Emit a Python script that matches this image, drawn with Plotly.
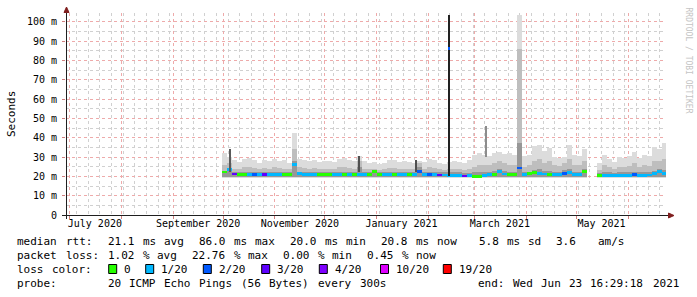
import plotly.graph_objects as go
import pandas as pd

# ---------------- data ----------------
bin_start = pd.date_range("2020-09-30", periods=89, freq="3D")

smoke_top = [32.0, 30.0, 28.5, 27.5, 29.0, 29.5, 28.5, 27.0, 28.5, 28.0,
             29.0, 28.0, 28.5, 27.0, 42.5, 29.0, 28.5, 28.0, 28.5, 27.5,
             28.0, 28.0, 27.5, 29.0, 29.5, 28.5, 28.0, 30.5, 28.0, 27.0,
             27.5, 26.5, 27.0, 28.5, 28.5, 27.5, 28.0, 27.5, 27.0, 28.0,
             27.5, 29.0, 28.5, 27.0, 26.5, 27.5, 28.0, 27.5, 27.0, 28.5,
             31.0, 32.0, 31.0, 30.5, 32.0, 32.5, 31.5, 32.0, 31.0, 103.5,
             30.5, 31.0, 35.5, 36.0, 33.0, 34.5, 30.0, 29.5, 30.0, 36.0,
             31.0, 30.5, 34.0, None, None, 27.0, 31.0, 29.0, 27.5, 30.0,
             29.5, 30.5, 32.5, 29.5, 31.0, 30.5, 35.0, 34.0, 37.0]

smoke_mid = [26.0, 27.0, 24.0, 24.0, 25.0, 25.0, 24.5, 24.0, 24.5, 24.0,
             25.0, 24.5, 24.0, 24.0, 34.0, 25.0, 24.5, 24.0, 24.5, 24.0,
             24.0, 24.0, 24.0, 25.0, 25.0, 24.5, 24.0, 28.0, 24.0, 24.0,
             24.0, 23.5, 24.0, 24.5, 24.5, 24.0, 24.0, 24.0, 24.0, 27.0,
             24.0, 25.0, 24.5, 24.0, 23.5, 24.0, 24.0, 24.0, 23.5, 24.0,
             25.0, 26.0, 26.0, 26.0, 27.0, 28.0, 27.0, 26.0, 26.0, 86.0,
             25.0, 26.0, 28.0, 29.0, 27.0, 28.0, 26.0, 25.5, 27.0, 29.0,
             26.0, 26.0, 28.0, None, None, 23.5, 26.0, 25.0, 24.0, 25.0,
             25.0, 25.5, 27.0, 25.0, 26.0, 25.5, 28.0, 28.0, 29.0]

smoke_inner = [23.0, 24.5, 22.0, 22.0, 22.0, 22.0, 22.0, 22.0, 22.0, 22.0,
               22.0, 22.0, 22.0, 22.0, 28.0, 22.0, 22.0, 22.0, 22.0, 22.0,
               22.0, 22.0, 22.0, 22.0, 22.0, 22.0, 22.0, 25.0, 22.0, 22.0,
               23.5, 22.0, 22.0, 22.0, 22.0, 22.0, 22.0, 22.0, 22.0, 25.0,
               22.0, 22.0, 22.0, 22.0, 22.0, 22.0, 22.0, 22.0, 21.5, 21.5,
               22.0, 22.5, 22.0, 22.5, 23.0, 24.0, 23.0, 22.5, 22.5, 37.0,
               22.0, 22.5, 23.5, 24.0, 23.0, 23.0, 22.5, 22.5, 23.5, 24.0,
               22.5, 22.5, 24.0, None, None, 21.5, 22.0, 22.0, 21.5, 22.0,
               22.0, 22.0, 22.5, 22.0, 22.0, 22.0, 23.0, 24.0, 23.5]

smoke_floor = [19.4, 19.6, 19.9]  # lower edge of outer / mid / inner smoke (ms)

median_rtt = [22.3, 23.5, 21.2, 21.0, 21.0, 21.0, 21.0, 21.0, 21.0, 21.0,
              21.0, 21.0, 21.0, 21.0, 26.0, 21.5, 21.0, 21.0, 21.0, 21.0,
              21.0, 21.0, 21.0, 21.0, 21.0, 21.0, 21.0, 21.0, 21.0, 21.0,
              22.5, 21.0, 21.0, 21.0, 21.0, 21.0, 21.0, 21.0, 21.0, 22.5,
              21.0, 21.0, 20.8, 20.7, 20.7, 20.6, 20.5, 20.3, 20.2, 20.3,
              20.0, 20.0, 20.3, 20.8, 21.0, 22.5, 21.2, 21.0, 21.0, 24.3,
              21.0, 21.5, 22.0, 21.5, 21.2, 21.0, 21.0, 21.0, 21.5, 22.0,
              21.0, 21.0, 22.5, None, None, 20.5, 20.5, 20.5, 20.5, 20.5,
              20.5, 20.6, 20.8, 20.6, 20.6, 20.7, 21.5, 22.5, 21.5]

loss_count = [0, 1, 3, 0, 0, 1, 2, 1, 3, 1,
              1, 1, 0, 0, 1, 1, 1, 1, 1, 0,
              0, 0, 1, 1, 0, 1, 0, 1, 1, 0,
              0, 0, 1, 1, 0, 1, 1, 0, 1, 2,
              1, 2, 1, 3, 1, 1, 1, 1, 3, 1,
              0, 0, 1, 1, 0, 1, 1, 0, 0, 2,
              1, 0, 0, 1, 1, 0, 1, 1, 2, 1,
              1, 1, 0, None, None, 0, 1, 1, 1, 1,
              1, 1, 2, 1, 1, 1, 1, 1, 1]

spike_time = ["2020-10-05 00:00", "2020-12-21 00:00", "2021-01-24 12:00",
              "2021-02-13 09:00", "2021-03-07 16:00"]
spike_low = [22.0, 22.0, 22.0, 20.0, 30.0]
spike_high = [34.0, 30.7, 28.5, 103.5, 46.3]
spike_shade = ["#5a5a5a", "#505050", "#505050", "#222222", "#8c8c8c"]

spike_median_time = ["2021-02-13 09:00"]
spike_median = [86.0]
spike_median_loss = [2]

loss_levels = [0, 1, 2, 3, 4, 10, 19]
loss_labels = ["0", "1/20", "2/20", "3/20", "4/20", "10/20", "19/20"]
loss_colors = ["#26ff00", "#00b8ff", "#0059ff", "#5e00ff", "#7e00ff", "#dd00ff", "#ff0000"]

y_tick_vals = [0, 10, 20, 30, 40, 50, 60, 70, 80, 90, 100]
y_tick_text = ["0", "10 m", "20 m", "30 m", "40 m", "50 m", "60 m", "70 m", "80 m", "90 m", "100 m"]

month_grid = ["2020-07-01", "2020-08-01", "2020-09-01", "2020-10-01", "2020-11-01",
              "2020-12-01", "2021-01-01", "2021-02-01", "2021-03-01", "2021-04-01",
              "2021-05-01", "2021-06-01"]
month_label_pos = ["2020-07-16", "2020-09-16", "2020-11-16", "2021-01-16",
                   "2021-03-16", "2021-05-16"]
month_label_text = ["July 2020", "September 2020", "November 2020", "January 2021",
                    "March 2021", "May 2021"]

legend_rtt = "median rtt:  21.1 ms avg  86.0 ms max  20.0 ms min  20.8 ms now   5.8 ms sd  3.6   am/s"
legend_loss = "packet loss: 1.02 % avg  22.76 % max  0.00 % min  0.45 % now"
legend_color_title = "loss color:"
legend_probe = "probe:       20 ICMP Echo Pings (56 Bytes) every 300s"
legend_end = "end: Wed Jun 23 16:29:18 2021"
watermark = "RRDTOOL / TOBI OETIKER"

x_start = "2020-06-28 16:29:18"
x_end = "2021-06-23 16:29:18"

# ---------------- figure ----------------
DAY = 86400000
W, H = 697, 297
L, R, T, B = 66, 31, 13, 82
PW, PH = W - L - R, H - T - B
FONT = "DejaVu Sans Mono"
LEG_SIZE = 11
AX_SIZE = 10
PITCH = 7.0  # legend character cell width in the reference (px)


def px(xp):
    return (xp - L) / PW


def py(yp):
    return (H - B - yp) / PH


fig = go.Figure()

band_colors = ["#dcdcdc", "#bebebe", "#979797"]
for tops, floor, col in zip([smoke_top, smoke_mid, smoke_inner], smoke_floor, band_colors):
    fig.add_trace(go.Bar(
        x=bin_start,
        base=[floor if t is not None else None for t in tops],
        y=[t - floor if t is not None else None for t in tops],
        width=3 * DAY, offset=0,
        marker=dict(color=col, line=dict(width=0)),
        hoverinfo="skip", showlegend=False,
    ))

color_of = dict(zip(loss_levels, loss_colors))
line_half = 0.7
fig.add_trace(go.Bar(
    x=bin_start,
    base=[m - line_half if m is not None else None for m in median_rtt],
    y=[2 * line_half if m is not None else None for m in median_rtt],
    width=3 * DAY, offset=0,
    marker=dict(color=[color_of.get(c, "rgba(0,0,0,0)") for c in loss_count], line=dict(width=0)),
    hoverinfo="skip", showlegend=False,
))

spike_width = [0.6 * DAY, 0.6 * DAY, 0.6 * DAY, 0.9 * DAY, 0.6 * DAY]
fig.add_trace(go.Bar(
    x=pd.to_datetime(spike_time),
    base=spike_low,
    y=[h - l for h, l in zip(spike_high, spike_low)],
    width=spike_width, offset=0,
    marker=dict(color=spike_shade, line=dict(width=0)),
    hoverinfo="skip", showlegend=False,
))
fig.add_trace(go.Bar(
    x=pd.to_datetime(spike_median_time),
    base=[m - line_half for m in spike_median],
    y=[2 * line_half for _ in spike_median],
    width=0.9 * DAY, offset=0,
    marker=dict(color=[color_of[c] for c in spike_median_loss], line=dict(width=0)),
    hoverinfo="skip", showlegend=False,
))

# dummy trace so the label axis exists
fig.add_trace(go.Scatter(x=[x_start], y=[None], xaxis="x2", yaxis="y",
                         mode="markers", showlegend=False, hoverinfo="skip"))

RED_GRID = "#eeaaaa"
GRAY_GRID = "#d0d0d0"

fig.update_layout(
    width=W, height=H,
    margin=dict(l=L, r=R, t=T, b=B, pad=0),
    paper_bgcolor="white", plot_bgcolor="white",
    barmode="overlay", bargap=0, showlegend=False,
    font=dict(family=FONT, size=AX_SIZE, color="black"),
    xaxis=dict(
        type="date", range=[x_start, x_end],
        tickmode="array", tickvals=month_grid, showticklabels=False,
        showgrid=True, gridcolor=RED_GRID, griddash="dot", gridwidth=1,
        ticks="outside", ticklen=3, tickcolor="#d08080",
        showline=False, zeroline=False,
        minor=dict(tickmode="linear", tick0="2020-07-05", dtick=7 * DAY,
                   showgrid=True, gridcolor=GRAY_GRID, griddash="dot", gridwidth=1, ticks=""),
    ),
    xaxis2=dict(
        type="date", range=[x_start, x_end], overlaying="x", anchor="y", side="bottom",
        tickmode="array", tickvals=month_label_pos, ticktext=month_label_text,
        showgrid=False, ticks="", showline=False, zeroline=False, ticklabelstandoff=1,
        tickfont=dict(family=FONT, size=AX_SIZE, color="black"),
    ),
    yaxis=dict(
        range=[0, 104.5],
        tickmode="array", tickvals=y_tick_vals, ticktext=y_tick_text,
        showgrid=True, gridcolor=RED_GRID, griddash="dot", gridwidth=1,
        ticks="outside", ticklen=3, tickcolor="#d08080", ticklabelstandoff=3,
        showline=False, zeroline=False,
        tickfont=dict(family=FONT, size=AX_SIZE, color="black"),
        minor=dict(tickmode="linear", tick0=0, dtick=5,
                   showgrid=True, gridcolor=GRAY_GRID, griddash="dot", gridwidth=1, ticks=""),
    ),
)

shapes = []
AXIS = "#1f1f1f"
ARROW = "#801f1f"
shapes.append(dict(type="line", xref="paper", yref="paper",
                   x0=px(66.5), x1=px(66.5), y0=py(219), y1=py(11),
                   line=dict(color=AXIS, width=1)))
shapes.append(dict(type="line", xref="paper", yref="paper",
                   x0=px(62), x1=px(670), y0=py(215.5), y1=py(215.5),
                   line=dict(color=AXIS, width=1)))
shapes.append(dict(type="path", xref="paper", yref="paper",
                   path=f"M {px(66.5)},{py(7)} L {px(64)},{py(12.5)} L {px(69)},{py(12.5)} Z",
                   fillcolor=ARROW, line=dict(color=ARROW, width=1)))
shapes.append(dict(type="path", xref="paper", yref="paper",
                   path=f"M {px(674)},{py(215.5)} L {px(668.5)},{py(213)} L {px(668.5)},{py(218)} Z",
                   fillcolor=ARROW, line=dict(color=ARROW, width=1)))

box_left = [108.7, 145.7, 203.3, 261.7, 319.3, 380.5, 443.3]
for bx, col in zip(box_left, loss_colors):
    shapes.append(dict(type="rect", xref="paper", yref="paper",
                       x0=px(bx), x1=px(bx + 8), y0=py(273.5), y1=py(264.5),
                       fillcolor=col, line=dict(color="black", width=1)))
fig.update_layout(shapes=shapes)

ann = []


def text_at(x, y, s, anchor="left", **kw):
    ann.append(dict(xref="paper", yref="paper", x=px(x), y=py(y), text=s,
                    xanchor=anchor, yanchor="middle", showarrow=False,
                    font=dict(family=FONT, size=kw.get("size", LEG_SIZE), color=kw.get("color", "black")),
                    textangle=kw.get("angle", 0), borderpad=0))


def words_at(x0, y, s):
    """Place each word of a monospaced legend line on the reference's character grid."""
    i = 0
    while i < len(s):
        if s[i] == " ":
            i += 1
            continue
        j = s.find(" ", i)
        j = len(s) if j < 0 else j
        text_at(x0 + i * PITCH, y, s[i:j])
        i = j


words_at(16, 241, legend_rtt)
words_at(16, 255, legend_loss)
words_at(16, 269, legend_color_title)
for bx, lab in zip(box_left, loss_labels):
    text_at(bx + 14.3, 269, lab)
words_at(16, 283, legend_probe)
words_at(680 - len(legend_end) * PITCH, 283, legend_end)
text_at(11, 114, "Seconds", anchor="center", angle=-90, size=11)
text_at(688.5, 60, watermark.replace(" ", "&nbsp;"), anchor="center", angle=90, size=8, color="#c4c4c4")
fig.update_layout(annotations=ann)

fig.write_html("out.html", config={"displayModeBar": False})
